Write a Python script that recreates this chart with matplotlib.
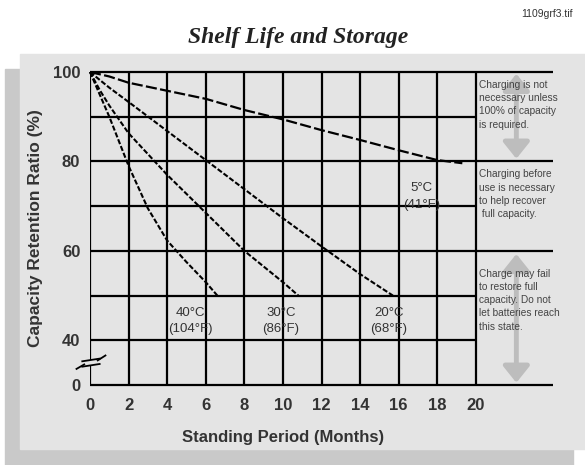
import numpy as np
import matplotlib.pyplot as plt
from matplotlib.patches import Rectangle, FancyArrowPatch, Polygon

plt.rcParams['font.family'] = ['Liberation Sans', 'DejaVu Sans']

# capacity retention curves (months, %)
months_5 = [0, 1, 2, 4, 6, 8, 10, 12, 14, 16, 18, 19.3]
ratio_5 = [100, 99, 97.6, 95.8, 94, 91.5, 89.4, 87, 84.8, 82.5, 80.3, 79.6]
months_20 = [0, 1, 2, 4, 6, 8, 10, 12, 14, 15.7]
ratio_20 = [100, 96.5, 93.3, 86.8, 80.3, 73.8, 67.3, 61, 54.8, 50]
months_30 = [0, 0.5, 1, 2, 4, 6, 8, 10, 10.8]
ratio_30 = [100, 96, 92.5, 86.3, 77, 68.5, 60, 53, 50]
months_40 = [0, 0.5, 1, 2, 3, 4, 5, 6, 6.6]
ratio_40 = [100, 95, 90, 79, 69.5, 62.3, 57.5, 53, 50]

temp_labels = ['40°C\n(104°F)', '30°C\n(86°F)', '20°C\n(68°F)', '5°C\n(41°F)']
x_ticks = list(range(0, 21, 2))
y_tick_labels = ['0', '40', '60', '80', '100']
notes = ['Charging is not\nnecessary unless\n100% of capacity\nis required.',
         'Charging before\nuse is necessary\nto help recover\n full capacity.',
         'Charge may fail\nto restore full\ncapacity. Do not\nlet batteries reach\nthis state.']

Y0 = 30  # where the broken axis puts 0 %

W, H = 585, 465
fig = plt.figure(figsize=(W / 100, H / 100), dpi=100)
fig.patches.append(Rectangle((5 / W, 0), 568 / W, 396 / H, transform=fig.transFigure,
                             color='#c9c9c9', zorder=-10))
fig.patches.append(Rectangle((20 / W, 16 / H), 565 / W, 395 / H, transform=fig.transFigure,
                             color='#e4e4e4', zorder=-9))

fig.text(298 / W, 1 - 37 / H, 'Shelf Life and Storage', ha='center', va='center',
         family='Liberation Serif', style='italic', weight='bold', fontsize=17, color='#222222')
fig.text(573 / W, 1 - 14 / H, '1109grf3.tif', ha='right', va='center', fontsize=7.5, color='#333333')

ax = fig.add_axes([90 / W, 80 / H, 463 / W, 313 / H])
ax.set_facecolor('none')
ax.set_xlim(0, 24)
ax.set_ylim(Y0, 100)
for s in ax.spines.values():
    s.set_visible(False)

# grid
ax.vlines(x_ticks, Y0, 100, color='black', lw=1.6, zorder=2)
ax.hlines([40, 50, 70, 90], 0, 20, color='black', lw=1.6, zorder=2)
ax.hlines([Y0, 60, 80, 100], 0, 24, color='black', lw=1.6, zorder=2, clip_on=False)

ax.set_xticks(x_ticks)
ax.set_yticks([Y0, 40, 60, 80, 100], y_tick_labels)
ax.tick_params(length=0, labelsize=12, labelcolor='#333333')
ax.tick_params(axis='x', pad=9)
ax.tick_params(axis='y', pad=7)
for lab in ax.get_xticklabels() + ax.get_yticklabels():
    lab.set_fontweight('bold')

ax.set_xlabel('Standing Period (Months)', fontsize=12, weight='bold', color='#333333')
ax.xaxis.set_label_coords(193 / 463, -0.145)
ax.set_ylabel('Capacity Retention Ratio (%)', fontsize=12.5, weight='bold', color='#333333', labelpad=7)

# curves
ax.plot(months_5, ratio_5, color='black', lw=1.6, ls=(0, (5, 1.5)), zorder=3, clip_on=False)
for m, r in [(months_20, ratio_20), (months_30, ratio_30), (months_40, ratio_40)]:
    ax.plot(m, r, color='black', lw=1.5, ls=(0, (2.5, 1)), zorder=3, clip_on=False)

for lab, x, y in zip(temp_labels, [5.2, 9.9, 15.5, 17.2], [44.3, 44.3, 44.3, 72.2]):
    ax.text(x, y, lab, ha='center', va='center', fontsize=9.5, color='#333333',
            linespacing=1.5, zorder=4)

# axis break symbol
brk = Polygon([[-0.4, 34.1], [0.5, 34.7], [0.5, 35.9], [-0.4, 35.3]], closed=True,
              facecolor='#e4e4e4', edgecolor='none', zorder=4, clip_on=False)
ax.add_patch(brk)
ax.plot([-0.4, 0.5], [34.1, 34.7], color='black', lw=1.3, zorder=5, clip_on=False)
ax.plot([-0.4, 0.5], [35.3, 35.9], color='black', lw=1.3, zorder=5, clip_on=False)
ax.plot([-0.7, -0.3], [33.6, 34.6], color='black', lw=1.3, zorder=5, clip_on=False)
ax.plot([0.4, 0.8], [35.5, 36.6], color='black', lw=1.3, zorder=5, clip_on=False)

# grey arrows in the note column
for y_a, y_b in [(99.6, 80.6), (59.3, Y0 + 0.5)]:
    arr = FancyArrowPatch((22.1, y_a), (22.1, y_b),
                          arrowstyle='<|-|>,head_length=0.5,head_width=0.4',
                          mutation_scale=20, color='#bdbdbd', lw=3.5,
                          shrinkA=0, shrinkB=0, zorder=1, clip_on=False)
    ax.add_patch(arr)

for note, y in zip(notes, [98.2, 78.2, 56]):
    ax.text(20.15, y, note, ha='left', va='top', fontsize=7.3, color='#444444',
            linespacing=1.4, zorder=4)

fig.savefig('out.png', dpi=100)
